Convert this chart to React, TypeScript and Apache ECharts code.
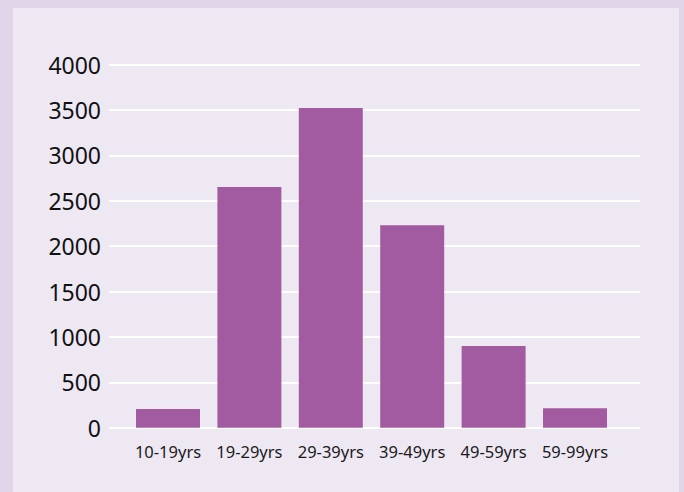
import React, { useEffect, useRef } from "react";
import * as echarts from "echarts";

const categories = ["10-19yrs", "19-29yrs", "29-39yrs", "39-49yrs", "49-59yrs", "59-99yrs"];
const counts = [205, 2650, 3520, 2230, 900, 215];
const yMin = 0;
const yMax = 4000;
const yInterval = 500;

export default function App() {
  const ref = useRef<HTMLDivElement>(null);
  useEffect(() => {
    if (!ref.current) return;
    const chart = echarts.init(ref.current, undefined, { renderer: "svg" });
    const font = "'Noto Sans', 'Open Sans', sans-serif";
    chart.setOption({
      animation: false,
      backgroundColor: "transparent",
      grid: [
        { left: 109, right: 44, top: 64.5, bottom: 64.3, containLabel: false },
        { left: 127.3, right: 68.3, top: 64.5, bottom: 64.3, containLabel: false },
      ],
      xAxis: [
        { type: "value", gridIndex: 0, show: false, min: 0, max: 1 },
        {
          type: "category",
          gridIndex: 1,
          data: categories,
          axisLine: { show: false },
          axisTick: { show: false },
          axisLabel: { color: "#1a1a1a", fontSize: 16.5, fontFamily: font, margin: 15, interval: 0 },
        },
      ],
      yAxis: [
        {
          type: "value",
          gridIndex: 0,
          min: yMin,
          max: yMax,
          interval: yInterval,
          axisLine: { show: false },
          axisTick: { show: false },
          axisLabel: {
            color: "#111",
            fontSize: 23,
            fontFamily: font,
            margin: 8,
            formatter: (v: number) => String(v),
          },
          splitLine: { show: true, lineStyle: { color: "#ffffff", width: 2 } },
        },
        {
          type: "value",
          gridIndex: 1,
          min: yMin,
          max: yMax,
          interval: yInterval,
          show: false,
          splitLine: { show: false },
        },
      ],
      series: [
        {
          type: "bar",
          xAxisIndex: 1,
          yAxisIndex: 1,
          data: counts,
          barWidth: "78.6%",
          itemStyle: { color: "#a25ba0" },
        },
      ],
    });
    return () => chart.dispose();
  }, []);
  return (
    <div
      style={{
        position: "absolute",
        left: 0,
        top: 0,
        width: 684,
        height: 492,
        background: "#e1d5e9",
        overflow: "hidden",
      }}
    >
      <div
        style={{
          position: "absolute",
          left: 13,
          top: 8,
          width: 666,
          height: 484,
          background: "#eee8f3",
        }}
      />
      <div ref={ref} style={{ position: "absolute", left: 0, top: 0, width: 684, height: 492 }} />
    </div>
  );
}
